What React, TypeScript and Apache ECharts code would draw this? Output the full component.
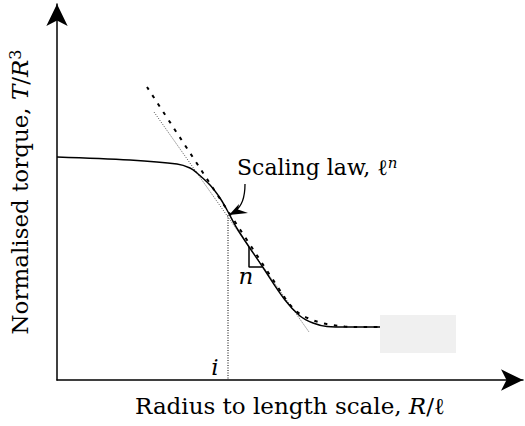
import React, { useEffect, useRef } from "react";
import * as echarts from "echarts";

// Data in chart units (x: 0..466 left→right, y: 0..376 bottom→top)
const solidCurve: [number, number][] = [
  [0, 223], [73, 220], [120, 216], [133, 212], [140, 207], [153, 195], [163, 182],
  [170, 170], [181, 150], [205, 114], [228, 80], [243, 64], [256, 57], [270, 53.5],
  [290, 53], [323, 53],
];
const dashedCurve: [number, number][] = [
  [90, 293], [228, 82], [235, 73], [243, 66], [253, 61], [263, 57.5], [275, 55],
  [288, 53.5], [306, 53], [323, 53],
];
const dottedTangent: [number, number][] = [[97, 268], [252, 48]];
const criticalLine: [number, number][] = [[171, 165], [171, 0]];
const slopeTriangle: [number, number][] = [[192, 133], [192, 113], [205, 113]];
const greyBox: [number, number][] = [[323, 65], [399, 27]];

const xAxisName = "Radius to length scale, {i|R}/ℓ";
const yAxisName = "Normalised torque, {i|T}/{i|R}{s|3}";
const FONT = "DejaVu Serif";
const FS = 23;
const FS_NOTE = 22;

export default function App() {
  const ref = useRef<HTMLDivElement>(null);
  useEffect(() => {
    if (!ref.current) return;
    const chart = echarts.init(ref.current, null, { renderer: "svg" });
    const rich = {
      i: { fontStyle: "italic", fontSize: FS, fontFamily: FONT, color: "#000" },
      s: { fontSize: 16, fontFamily: FONT, color: "#000", verticalAlign: "top", padding: [0, 0, 9, 0] },
    };
    chart.setOption({
      animation: false,
      grid: { left: 57, right: 2, top: 4, bottom: 46, containLabel: false, outerBoundsMode: "none" },
      xAxis: {
        type: "value", min: 0, max: 466,
        axisLine: { show: true, symbol: ["none", "arrow"], symbolSize: [16, 22], lineStyle: { color: "#000", width: 1.5 } },
        axisTick: { show: false }, axisLabel: { show: false }, splitLine: { show: false },
        name: xAxisName, nameLocation: "middle", nameGap: 14,
        nameTextStyle: { fontSize: FS, fontFamily: FONT, color: "#000", verticalAlign: "top", rich },
      },
      yAxis: {
        type: "value", min: 0, max: 376,
        axisLine: { show: true, symbol: ["none", "arrow"], symbolSize: [16, 22], lineStyle: { color: "#000", width: 1.5 } },
        axisTick: { show: false }, axisLabel: { show: false }, splitLine: { show: false },
        name: yAxisName, nameLocation: "middle", nameGap: 37, nameRotate: 90,
        nameTextStyle: { fontSize: FS, fontFamily: FONT, color: "#000", verticalAlign: "middle", rich },
      },
      series: [
        {
          type: "line", data: dottedTangent, symbol: "none",
          lineStyle: { color: "#222", width: 0.8, type: [1, 1.5] },
        },
        {
          type: "line", data: criticalLine, symbol: "none",
          lineStyle: { color: "#000", width: 1, type: [1, 1.5] },
        },
        {
          type: "line", data: solidCurve, symbol: "none", smooth: 0.35,
          lineStyle: { color: "#000", width: 1.5 },
          markArea: {
            silent: true,
            itemStyle: { color: "#f0f0f0" },
            data: [[{ coord: greyBox[0] }, { coord: greyBox[1] }]],
          },
        },
        {
          type: "line", data: dashedCurve, symbol: "none", smooth: 0.35,
          lineStyle: { color: "#000", width: 2, type: [3.5, 6.5] },
        },
        {
          type: "line", data: slopeTriangle, symbol: "none",
          lineStyle: { color: "#000", width: 1.5 },
        },
      ],
      graphic: [
        {
          type: "text", x: 237, y: 167,
          style: {
            text: "Scaling law, ℓ{s|n}",
            font: `${FS_NOTE}px "${FONT}"`, fill: "#000", verticalAlign: "middle",
            rich: { s: { fontSize: 15, fontStyle: "italic", fontFamily: FONT, verticalAlign: "top", padding: [0, 0, 9, 0] } },
          },
        },
        {
          type: "bezierCurve",
          shape: { x1: 245, y1: 184, cpx1: 245, cpy1: 200, cpx2: 241, cpy2: 207, x2: 235, y2: 211 },
          style: { stroke: "#000", lineWidth: 1.3, fill: "none" },
        },
        {
          type: "polygon",
          shape: { points: [[229, 215], [239, 204], [238, 209.5], [248, 213]] },
          style: { fill: "#000" },
        },
        {
          type: "text", x: 215, y: 367,
          style: { text: "i", font: `italic ${FS}px "${FONT}"`, fill: "#000", align: "center", verticalAlign: "middle" },
        },
        {
          type: "text", x: 246, y: 276,
          style: { text: "n", font: `italic ${FS}px "${FONT}"`, fill: "#000", align: "center", verticalAlign: "middle" },
        },
      ],
    });
    return () => chart.dispose();
  }, []);
  return <div ref={ref} style={{ width: 525, height: 426, position: "absolute", left: 0, top: 0 }} />;
}
